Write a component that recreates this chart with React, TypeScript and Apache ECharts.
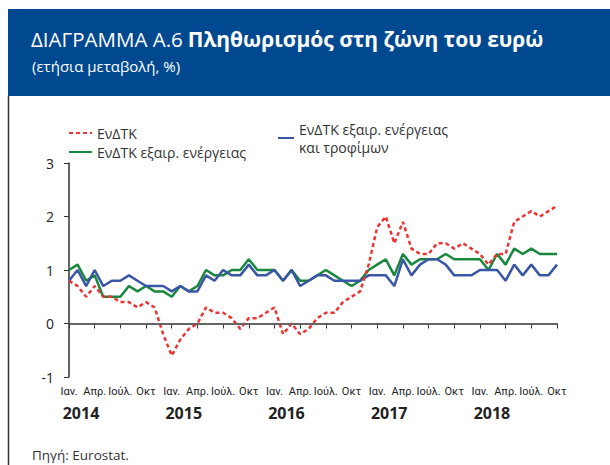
import React, { useEffect, useRef } from 'react';
import * as echarts from 'echarts';

const years = ['2014', '2015', '2016', '2017', '2018'];
const quarterLabels = ['Ιαν.', 'Απρ.', 'Ιούλ.', 'Οκτ'];
const months: string[] = [];
for (let y = 2014; y <= 2018; y++) {
  for (let m = 1; m <= 12; m++) {
    if (y === 2018 && m > 10) break;
    months.push(`${y}-${m < 10 ? '0' + m : m}`);
  }
}

const seriesNames = [
  'ΕνΔΤΚ',
  'ΕνΔΤΚ εξαιρ. ενέργειας',
  'ΕνΔΤΚ εξαιρ. ενέργειας\nκαι τροφίμων',
];

const hicp = [
  0.8, 0.7, 0.5, 0.7, 0.5, 0.5, 0.4, 0.4, 0.3, 0.4, 0.3, -0.2,
  -0.6, -0.3, -0.1, 0.0, 0.3, 0.2, 0.2, 0.1, -0.1, 0.1, 0.1, 0.2,
  0.3, -0.2, 0.0, -0.2, -0.1, 0.1, 0.2, 0.2, 0.4, 0.5, 0.6, 1.1,
  1.8, 2.0, 1.5, 1.9, 1.4, 1.3, 1.3, 1.5, 1.5, 1.4, 1.5, 1.4,
  1.3, 1.1, 1.3, 1.3, 1.9, 2.0, 2.1, 2.0, 2.1, 2.2,
];

const exEnergy = [
  1.0, 1.1, 0.8, 0.9, 0.5, 0.5, 0.5, 0.7, 0.6, 0.7, 0.6, 0.6,
  0.5, 0.7, 0.6, 0.7, 1.0, 0.9, 0.9, 1.0, 1.0, 1.2, 1.0, 1.0,
  1.0, 0.8, 1.0, 0.8, 0.8, 0.9, 1.0, 0.9, 0.8, 0.7, 0.8, 1.0,
  1.1, 1.2, 0.9, 1.3, 1.1, 1.2, 1.2, 1.2, 1.3, 1.2, 1.2, 1.2,
  1.2, 1.0, 1.3, 1.1, 1.4, 1.3, 1.4, 1.3, 1.3, 1.3,
];

const exEnergyFood = [
  0.8, 1.0, 0.7, 1.0, 0.7, 0.8, 0.8, 0.9, 0.8, 0.7, 0.7, 0.7,
  0.6, 0.7, 0.6, 0.6, 0.9, 0.8, 1.0, 0.9, 0.9, 1.1, 0.9, 0.9,
  1.0, 0.8, 1.0, 0.7, 0.8, 0.9, 0.9, 0.8, 0.8, 0.8, 0.8, 0.9,
  0.9, 0.9, 0.7, 1.2, 0.9, 1.1, 1.2, 1.2, 1.1, 0.9, 0.9, 0.9,
  1.0, 1.0, 1.0, 0.8, 1.1, 0.9, 1.1, 0.9, 0.9, 1.1,
];

const FONT = "'Open Sans', 'Noto Sans', sans-serif";
const NARROW = "'Liberation Sans Narrow', Roboto, 'Liberation Sans', sans-serif";

export default function App() {
  const ref = useRef<HTMLDivElement>(null);

  useEffect(() => {
    if (!ref.current) return;
    const chart = echarts.init(ref.current, undefined, { renderer: 'svg' });
    chart.setOption({
      animation: false,
      backgroundColor: '#ffffff',
      graphic: [
        {
          type: 'rect',
          z: 0,
          shape: { x: 8, y: 9, width: 602, height: 87 },
          style: { fill: '#004990' },
        },
        {
          type: 'line',
          z: 0,
          shape: { x1: 8.5, y1: 96, x2: 8.5, y2: 465 },
          style: { stroke: '#333333', lineWidth: 1.5 },
        },
      ],
      title: [
        {
          text: '{a|ΔΙΑΓΡΑΜΜΑ Α.6} {b|Πληθωρισμός στη ζώνη του ευρώ}',
          left: 26,
          top: 23,
          textStyle: {
            rich: {
              a: { fontSize: 20.5, color: '#ffffff', fontFamily: FONT, fontWeight: 'normal' },
              b: { fontSize: 21, color: '#ffffff', fontFamily: FONT, fontWeight: 'bold' },
            },
          },
        },
        {
          text: '(ετήσια μεταβολή, %)',
          left: 27,
          top: 53,
          textStyle: { fontSize: 15, color: '#ffffff', fontFamily: FONT, fontWeight: 'normal' },
        },
        {
          text: 'Πηγή: Eurostat.',
          left: 27,
          top: 443,
          textStyle: { fontSize: 13.5, color: '#333333', fontFamily: FONT, fontWeight: 'normal' },
        },
      ],
      legend: [
        {
          data: [seriesNames[0], seriesNames[1]],
          orient: 'vertical',
          left: 68,
          top: 124,
          padding: 0,
          itemWidth: 23,
          itemHeight: 14,
          itemGap: 1,
          itemStyle: { opacity: 0 },
          textStyle: { fontSize: 14, color: '#333333', fontFamily: FONT, lineHeight: 18 },
        },
        {
          data: [seriesNames[2]],
          orient: 'vertical',
          left: 277,
          top: 111,
          padding: 0,
          itemWidth: 16,
          itemHeight: 14,
          itemStyle: { opacity: 0 },
          textStyle: {
            fontSize: 14,
            color: '#333333',
            fontFamily: FONT,
            lineHeight: 18,
            padding: [18, 0, 0, 0],
          },
        },
      ],
      grid: { left: 69, right: 53, top: 163, bottom: 88, containLabel: false },
      xAxis: [
        {
          type: 'category',
          data: months,
          boundaryGap: false,
          position: 'bottom',
          axisLine: { lineStyle: { color: '#333333', width: 1.5 } },
          axisTick: { interval: 2, length: 5, lineStyle: { color: '#333333' } },
          axisLabel: {
            interval: 2,
            formatter: (_v: string, i: number) => quarterLabels[(i % 12) / 3],
            fontSize: 11,
            fontFamily: NARROW,
            color: '#222222',
            margin: 9,
          },
          splitLine: { show: false },
        },
        {
          type: 'category',
          data: months,
          boundaryGap: false,
          position: 'bottom',
          axisLine: { show: false },
          axisTick: { show: false },
          axisLabel: {
            interval: (i: number) => i % 12 === 0,
            formatter: (_v: string, i: number) => `{y|${years[Math.floor(i / 12)]}}`,
            margin: 28,
            rich: {
              y: {
                fontSize: 16,
                fontWeight: 'bold',
                color: '#222222',
                fontFamily: FONT,
                padding: [0, 0, 0, 24],
              },
            },
          },
          splitLine: { show: false },
        },
      ],
      yAxis: {
        type: 'value',
        min: -1,
        max: 3,
        interval: 1,
        axisLine: { show: true, lineStyle: { color: '#333333', width: 1.5 } },
        axisTick: { show: true, length: 5, lineStyle: { color: '#333333' } },
        axisLabel: { fontSize: 14, color: '#222222', fontFamily: FONT, margin: 15 },
        splitLine: { show: false },
      },
      series: [
        {
          name: seriesNames[0],
          type: 'line',
          data: hicp,
          symbol: 'none',
          z: 4,
          lineStyle: { color: '#EE3333', width: 2.5, type: [4, 3] },
          itemStyle: { color: '#EE3333' },
          markLine: {
            silent: true,
            symbol: 'none',
            label: { show: false },
            lineStyle: { color: '#666666', width: 1.5, type: 'solid' },
            data: [{ yAxis: 0 }],
          },
        },
        {
          name: seriesNames[1],
          type: 'line',
          data: exEnergy,
          symbol: 'none',
          z: 2,
          lineStyle: { color: '#17883D', width: 2.5 },
          itemStyle: { color: '#17883D' },
        },
        {
          name: seriesNames[2],
          type: 'line',
          data: exEnergyFood,
          symbol: 'none',
          z: 3,
          lineStyle: { color: '#3A56A6', width: 2.5 },
          itemStyle: { color: '#3A56A6' },
        },
      ],
    });
    return () => chart.dispose();
  }, []);

  return (
    <div style={{ position: 'fixed', left: 0, top: 0, width: 610, height: 465 }}>
      <div ref={ref} style={{ width: 610, height: 465 }} />
    </div>
  );
}
